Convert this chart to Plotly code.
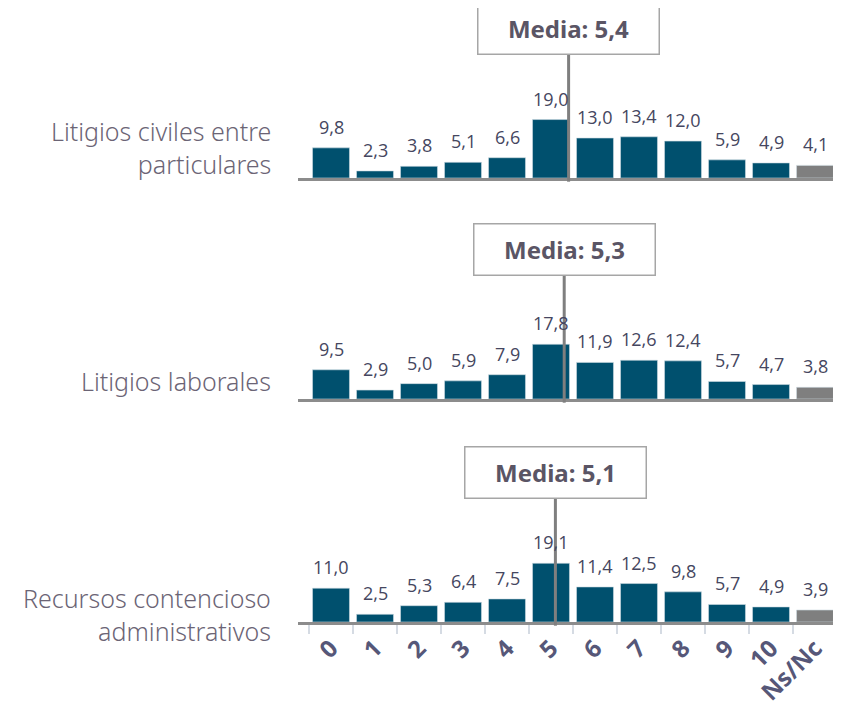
import plotly.graph_objects as go

# categories and values
categorias = ["0", "1", "2", "3", "4", "5", "6", "7", "8", "9", "10", "Ns/Nc"]
civiles = [9.8, 2.3, 3.8, 5.1, 6.6, 19.0, 13.0, 13.4, 12.0, 5.9, 4.9, 4.1]
laborales = [9.5, 2.9, 5.0, 5.9, 7.9, 17.8, 11.9, 12.6, 12.4, 5.7, 4.7, 3.8]
recursos = [11.0, 2.5, 5.3, 6.4, 7.5, 19.1, 11.4, 12.5, 9.8, 5.7, 4.9, 3.9]
medias = [5.4, 5.3, 5.1]
nombres = ["Litigios civiles entre<br>particulares", "Litigios laborales",
           "Recursos contencioso<br>administrativos"]

BLUE = "#00506e"
GREY = "#7f7f7f"
TXT = "#5a5565"

def fmt(v):
    return f"{v:.1f}".replace(".", ",")

# the html body has an 8px margin, so the figure starts at (8, 8)
OFF = 8
W, H = 841 - OFF, 708 - OFF
baselines = [178, 399, 622]   # pixel baseline of each panel in the window
panel_px = 123                # pixel height of y range [0, 40]
label_y = [0.25, 0.15, 0.06]  # left label vertical position in each panel

fig = go.Figure()
annotations = []
shapes = []

for i, (vals, media, nombre) in enumerate(zip([civiles, laborales, recursos], medias, nombres)):
    n = i + 1
    xa = "x" if n == 1 else f"x{n}"
    ya = "y" if n == 1 else f"y{n}"
    colors = [BLUE] * (len(vals) - 1) + [GREY]
    fig.add_trace(go.Bar(
        x=categorias, y=vals, xaxis=xa, yaxis=ya,
        marker=dict(color=colors, line=dict(color="#cfdbe3", width=0.6)),
        width=0.84, showlegend=False, hoverinfo="skip"))

    for c, v in zip(categorias, vals):
        annotations.append(dict(
            x=c, y=v, xref=xa, yref=ya, text=fmt(v), showarrow=False,
            yanchor="bottom", yshift=7,
            font=dict(family="Open Sans", size=18, color="#454660")))

    # mean line and box
    shapes.append(dict(type="line", xref=xa, yref=f"{ya} domain",
                       x0=media, x1=media, y0=-0.03, y1=1.0,
                       line=dict(color=GREY, width=3)))
    annotations.append(dict(
        x=media, y=1.0, xref=xa, yref=f"{ya} domain",
        text=f"<b>Media: {fmt(media)}</b>", showarrow=False,
        yanchor="bottom", xanchor="center", width=174, height=44,
        bgcolor="white", bordercolor="#a6a6a6", borderwidth=1.5, borderpad=3,
        font=dict(family="Noto Sans", size=24, color=TXT)))

    annotations.append(dict(
        x=(273 - OFF) / W, y=label_y[i], xref="paper", yref=f"{ya} domain",
        text=nombre, showarrow=False, xanchor="right", yanchor="middle",
        align="right",
        font=dict(family="Noto Sans", size=25, color="#6b6475", weight=300)))

    base = baselines[i] - OFF
    ydom = [1 - base / H, 1 - (base - panel_px) / H]
    xaxis = dict(domain=[(298 - OFF) / W, (837 - OFF) / W], range=[-0.75, 11.5],
                 type="category", anchor=ya,
                 showline=True, linecolor="#8c8c8c", linewidth=2.5,
                 showgrid=False, zeroline=False, fixedrange=True)
    if n == 3:
        xaxis.update(tickson="boundaries", ticks="outside", ticklen=9,
                     tickwidth=1.5, tickcolor="#d5dbe3", tickangle=-45,
                     tickfont=dict(family="Noto Sans", size=24, color="#565778",
                                   weight="bold"))
    else:
        xaxis.update(showticklabels=False, ticks="")
    yaxis = dict(domain=ydom, range=[0, 40], visible=False, fixedrange=True,
                 anchor=xa)
    fig.update_layout({("xaxis" if n == 1 else f"xaxis{n}"): xaxis,
                       ("yaxis" if n == 1 else f"yaxis{n}"): yaxis})

fig.update_layout(
    width=W, height=H, autosize=False,
    margin=dict(l=0, r=0, t=0, b=0),
    paper_bgcolor="white", plot_bgcolor="white",
    bargap=0.16, annotations=annotations, shapes=shapes)

fig.write_html("out.html")
